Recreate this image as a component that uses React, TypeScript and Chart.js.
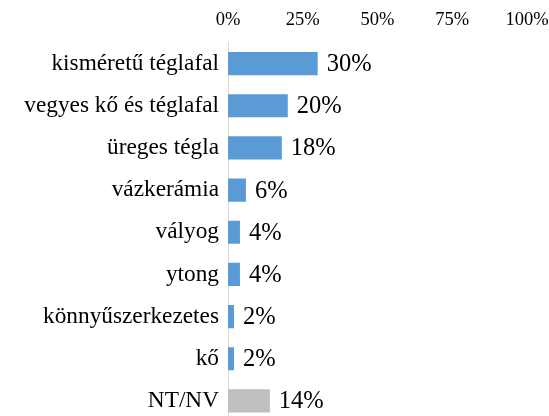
import React, { useEffect, useRef } from "react";
import { Chart, registerables } from "chart.js";

Chart.register(...registerables);

const categories = [
  "kisméretű téglafal",
  "vegyes kő és téglafal",
  "üreges tégla",
  "vázkerámia",
  "vályog",
  "ytong",
  "könnyűszerkezetes",
  "kő",
  "NT/NV",
];
const values = [30, 20, 18, 6, 4, 4, 2, 2, 14];
const barColors = [
  "#5B9BD5", "#5B9BD5", "#5B9BD5", "#5B9BD5", "#5B9BD5",
  "#5B9BD5", "#5B9BD5", "#5B9BD5", "#BFBFBF",
];
const tickValues = [0, 25, 50, 75, 100];

const FONT = '"Liberation Serif", "Times New Roman", Tinos, "DejaVu Serif", serif';

const labelPlugin = {
  id: "barValueLabels",
  afterDatasetsDraw(chart: any) {
    const ctx = chart.ctx;
    const meta = chart.getDatasetMeta(0);
    ctx.save();
    ctx.font = `24.5px ${FONT}`;
    ctx.fillStyle = "#000";
    ctx.textAlign = "left";
    ctx.textBaseline = "middle";
    meta.data.forEach((bar: any, i: number) => {
      ctx.fillText(`${values[i]}%`, bar.x + 9, bar.y + 1);
    });
    ctx.restore();
  },
};

export default function App() {
  const ref = useRef<HTMLCanvasElement>(null);
  useEffect(() => {
    document.body.style.margin = "0";
    const chart = new Chart(ref.current!, {
      type: "bar",
      data: {
        labels: categories,
        datasets: [
          {
            data: values,
            backgroundColor: barColors,
            barPercentage: 0.55,
            categoryPercentage: 1,
          },
        ],
      },
      options: {
        indexAxis: "y",
        responsive: false,
        animation: false,
        layout: { padding: { left: 0, right: 22, top: 0, bottom: 0 } },
        plugins: { legend: { display: false }, tooltip: { enabled: false } },
        scales: {
          x: {
            position: "top",
            min: 0,
            max: 100,
            afterBuildTicks: (s: any) => {
              s.ticks = tickValues.map((v) => ({ value: v }));
            },
            afterFit: (s: any) => {
              s.height = 42.5;
              s.paddingLeft = 0;
              s.paddingRight = 0;
            },
            grid: { display: false, drawTicks: false },
            border: { display: false },
            ticks: {
              callback: (v: any) => `${v}%`,
              color: "#000",
              font: { family: FONT, size: 18.5 },
              padding: 11,
              maxRotation: 0,
            },
          },
          y: {
            afterFit: (s: any) => {
              s.width = 228;
              s.paddingTop = 0;
              s.paddingBottom = 0;
            },
            grid: { display: false, drawTicks: false },
            border: { display: true, color: "#D9D9D9", width: 1 },
            ticks: {
              color: "#000",
              font: { family: FONT, size: 23.3 },
              padding: 9,
            },
          },
        },
      },
      plugins: [labelPlugin],
    });
    return () => chart.destroy();
  }, []);
  return (
    <div style={{ position: "fixed", left: 0, top: 0, width: 549, height: 416, overflow: "hidden", background: "#fff" }}>
      <canvas ref={ref} width={549} height={422} style={{ display: "block" }} />
    </div>
  );
}
